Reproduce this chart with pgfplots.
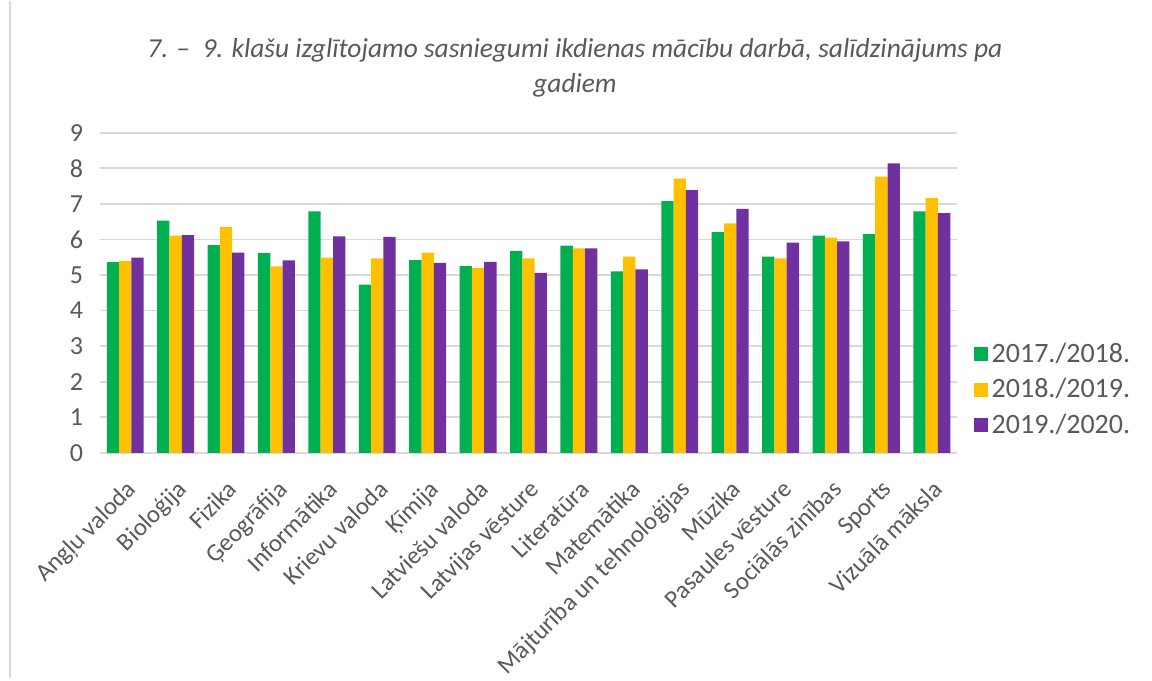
\documentclass[border=0pt]{standalone}
\usepackage{fontspec}
\setmainfont{Carlito}
\usepackage{pgfplots}
\pgfplotsset{compat=1.18}
\definecolor{cgreen}{HTML}{00B050}
\definecolor{cyellow}{HTML}{FFC000}
\definecolor{cpurple}{HTML}{7030A0}
\definecolor{textgray}{HTML}{595959}
\definecolor{gridgray}{HTML}{D9D9D9}

\begin{document}
\begin{tikzpicture}
% page frame: 1 px of the reference = 0.5pt
\path (-50pt,-112.5pt) rectangle (526pt,226pt);
\draw[gridgray, line width=0.8pt] (-45pt,226pt) -- (-45pt,-112.5pt);
\begin{axis}[
    at={(0pt,0pt)}, anchor=south west,
    width=428.5pt, height=160pt, scale only axis,
    ybar=0pt, bar width=6.15pt,
    xmin=-0.5, xmax=16.5, ymin=0, ymax=9,
    ytick={0,1,...,9},
    xtick={0,1,...,16},
    xticklabels={Angļu valoda, Bioloģija, Fizika, Ģeogrāfija, Informātika,
      Krievu valoda, Ķīmija, Latviešu valoda, Latvijas vēsture, Literatūra,
      Matemātika, Mājturība un tehnoloģijas, Mūzika, Pasaules vēsture,
      Sociālās zinības, Sports, Vizuālā māksla},
    x tick label style={rotate=45, anchor=north east, text=textgray,
      font=\fontsize{12.4}{14}\selectfont, inner sep=1pt, yshift=-5pt, xshift=-5pt},
    y tick label style={text=textgray, font=\fontsize{13}{15}\selectfont, xshift=-5pt},
    /pgf/number format/assume math mode=true,
    ymajorgrids, grid style={gridgray, line width=0.9pt},
    axis x line*=bottom, axis y line*=left,
    x axis line style={gridgray, line width=1pt, -},
    y axis line style={draw=none},
    major tick style={draw=none},
    legend cell align=left,
    legend style={at={(1.012,0.025)}, anchor=south west, draw=none, fill=none,
      font=\fontsize{14}{16}\selectfont, text=textgray, row sep=2.5pt},
    legend image code/.code={\fill[#1] (0pt,-3.5pt) rectangle (7pt,3.5pt);},
  ]
  \addplot[fill=cgreen, draw=none] coordinates {
    (0,5.36) (1,6.53) (2,5.84) (3,5.62) (4,6.79) (5,4.73) (6,5.42) (7,5.25)
    (8,5.67) (9,5.83) (10,5.10) (11,7.08) (12,6.21) (13,5.52) (14,6.11)
    (15,6.15) (16,6.79)
  };
  \addplot[fill=cyellow, draw=none] coordinates {
    (0,5.39) (1,6.11) (2,6.35) (3,5.24) (4,5.49) (5,5.47) (6,5.63) (7,5.20)
    (8,5.47) (9,5.75) (10,5.52) (11,7.71) (12,6.45) (13,5.47) (14,6.05)
    (15,7.77) (16,7.16)
  };
  \addplot[fill=cpurple, draw=none] coordinates {
    (0,5.49) (1,6.12) (2,5.63) (3,5.41) (4,6.09) (5,6.07) (6,5.34) (7,5.37)
    (8,5.06) (9,5.75) (10,5.16) (11,7.39) (12,6.86) (13,5.91) (14,5.95)
    (15,8.14) (16,6.74)
  };
  \legend{2017./2018., 2018./2019., 2019./2020.}
\end{axis}
\node[font=\fontsize{13.7}{17.5}\selectfont\itshape, text=textgray, align=center]
  at (237.5pt,192.25pt)
  {7. – \ 9. klašu izglītojamo sasniegumi ikdienas mācību darbā, salīdzinājums pa\\gadiem};
\end{tikzpicture}
\end{document}
